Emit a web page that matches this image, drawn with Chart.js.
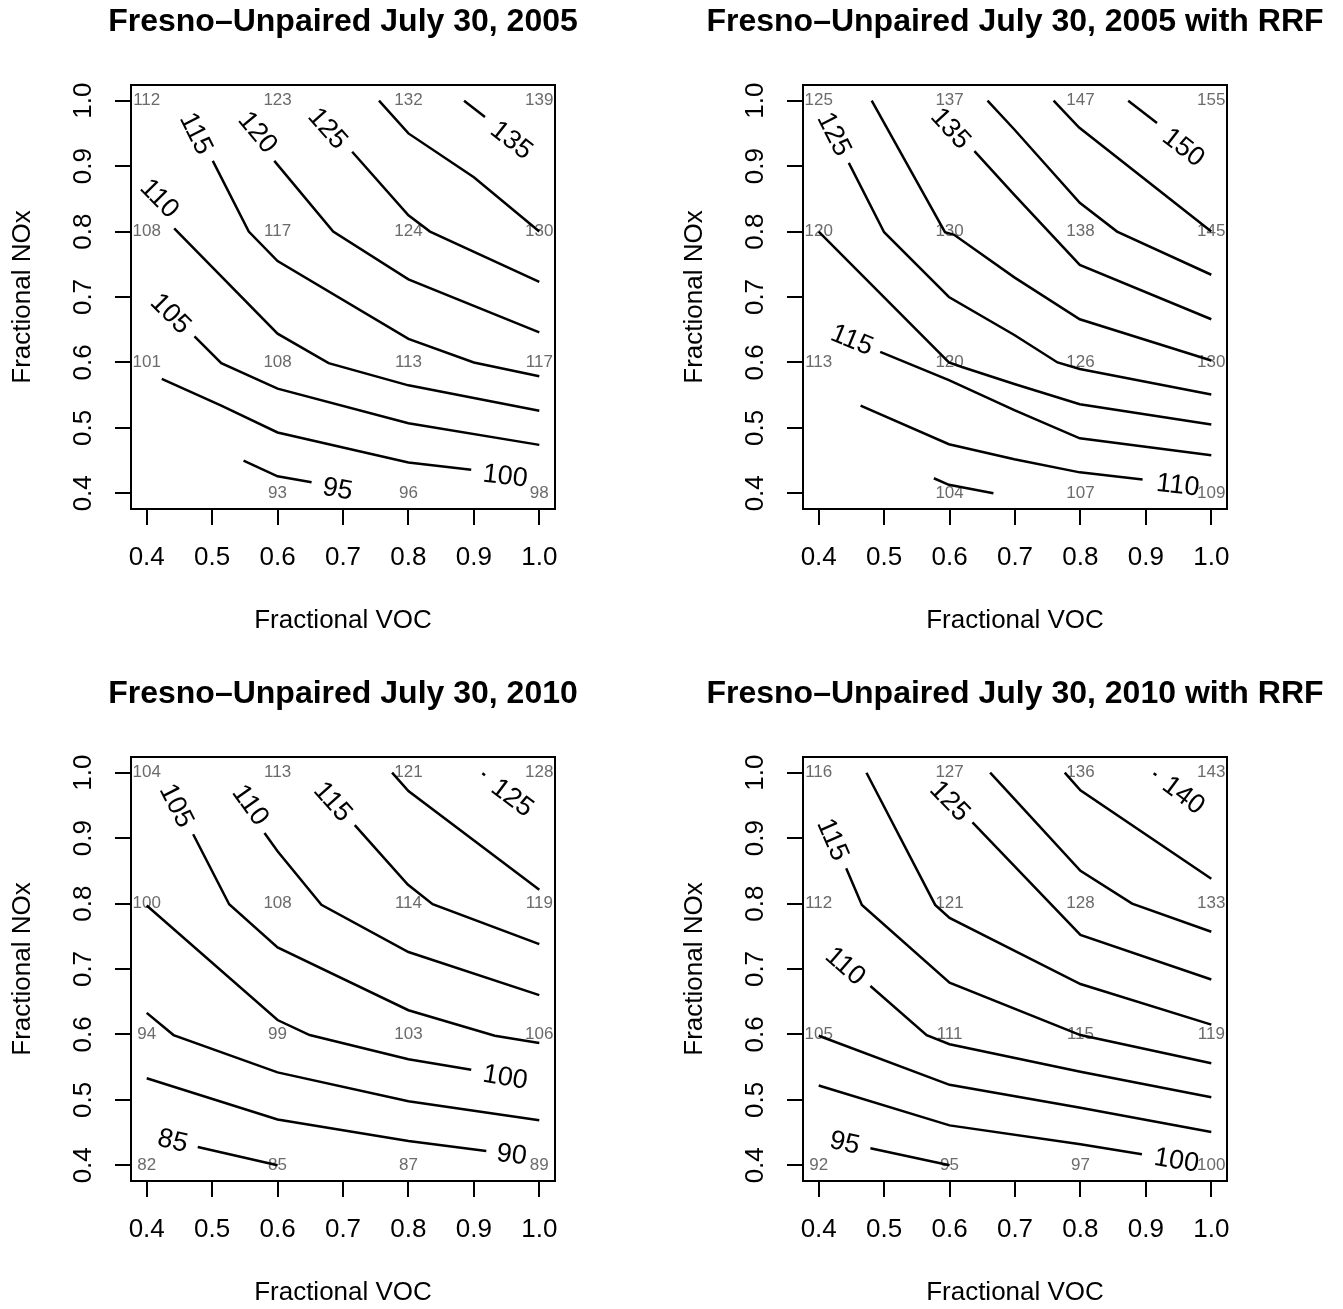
<!DOCTYPE html>
<html>
<head>
<meta charset="utf-8">
<title>Fresno-Unpaired contour plots</title>
<script src="https://cdn.jsdelivr.net/npm/chart.js@4.4.1/dist/chart.umd.min.js"></script>
<style>
  html, body { margin: 0; padding: 0; background: #fff; overflow: hidden; }
  #wrap { position: relative; width: 1343px; height: 1309px; }
  canvas { position: absolute; }
</style>
</head>
<body>
<div id="wrap">
  <canvas id="p1" width="672" height="672" style="left:0;top:0"></canvas>
  <canvas id="p2" width="672" height="672" style="left:672px;top:0"></canvas>
  <canvas id="p3" width="672" height="672" style="left:0;top:672px"></canvas>
  <canvas id="p4" width="672" height="672" style="left:672px;top:672px"></canvas>
</div>
<script>
// grid where the model values were printed
const vocGrid = [0.4, 0.6, 0.8, 1.0];
const noxGrid = [1.0, 0.8, 0.6, 0.4];
const tickValues = [0.4, 0.5, 0.6, 0.7, 0.8, 0.9, 1.0];

const titles = [
  "Fresno\u2013Unpaired July 30, 2005",
  "Fresno\u2013Unpaired July 30, 2005 with RRF",
  "Fresno\u2013Unpaired July 30, 2010",
  "Fresno\u2013Unpaired July 30, 2010 with RRF"
];

// printed grid values, rows = NOx 1.0 .. 0.4, cols = VOC 0.4 .. 1.0
const values2005 = [[112, 123, 132, 139], [108, 117, 124, 130], [101, 108, 113, 117], [null, 93, 96, 98]];
const values2005rrf = [[125, 137, 147, 155], [120, 130, 138, 145], [113, 120, 126, 130], [null, 104, 107, 109]];
const values2010 = [[104, 113, 121, 128], [100, 108, 114, 119], [94, 99, 103, 106], [82, 85, 87, 89]];
const values2010rrf = [[116, 127, 136, 143], [112, 121, 128, 133], [105, 111, 115, 119], [92, 95, 97, 100]];

// contour lines: [VOC, NOx] vertices, label = [VOC, NOx] of the level text
const lines2005 = [
  { level: 135, pts: [[0.885, 1.0], [0.917, 0.975]], label: [0.958, 0.940] },
  { level: 130, pts: [[0.755, 1.0], [0.8, 0.950], [0.9, 0.883], [1.0, 0.8]] },
  { level: 125, pts: [[0.714, 0.922], [0.8, 0.825], [0.833, 0.8], [1.0, 0.723]], label: [0.677, 0.958] },
  { level: 120, pts: [[0.595, 0.908], [0.685, 0.8], [0.8, 0.727], [1.0, 0.646]], label: [0.570, 0.952] },
  { level: 115, pts: [[0.501, 0.908], [0.556, 0.8], [0.6, 0.755], [0.8, 0.636], [0.9, 0.600], [1.0, 0.579]], label: [0.476, 0.950] },
  { level: 110, pts: [[0.442, 0.805], [0.6, 0.644], [0.678, 0.599], [0.8, 0.565], [1.0, 0.526]], label: [0.420, 0.851] },
  { level: 105, pts: [[0.473, 0.640], [0.514, 0.599], [0.6, 0.560], [0.8, 0.507], [1.0, 0.474]], label: [0.437, 0.675] },
  { level: 100, pts: [[0.423, 0.575], [0.514, 0.534], [0.6, 0.493], [0.8, 0.447], [0.896, 0.436]], label: [0.948, 0.427] },
  { level: 95, pts: [[0.548, 0.450], [0.6, 0.426], [0.652, 0.417]], label: [0.692, 0.407] }
];

const lines2005rrf = [
  { level: 150, pts: [[0.873, 1.0], [0.917, 0.966]], label: [0.958, 0.929] },
  { level: 145, pts: [[0.759, 1.0], [0.798, 0.959], [1.0, 0.8]] },
  { level: 140, pts: [[0.658, 1.0], [0.699, 0.956], [0.799, 0.844], [0.856, 0.8], [1.0, 0.734]] },
  { level: 135, pts: [[0.638, 0.923], [0.699, 0.856], [0.799, 0.749], [1.0, 0.666]], label: [0.602, 0.958] },
  { level: 130, pts: [[0.481, 1.0], [0.593, 0.799], [0.607, 0.795], [0.699, 0.730], [0.799, 0.666], [1.0, 0.603]] },
  { level: 125, pts: [[0.446, 0.905], [0.5, 0.799], [0.599, 0.700], [0.699, 0.642], [0.765, 0.600], [0.799, 0.590], [1.0, 0.551]], label: [0.424, 0.949] },
  { level: 120, pts: [[0.4, 0.8], [0.599, 0.600], [0.619, 0.593], [0.699, 0.567], [0.799, 0.536], [1.0, 0.505]] },
  { level: 115, pts: [[0.494, 0.616], [0.599, 0.573], [0.699, 0.527], [0.799, 0.484], [1.0, 0.458]], label: [0.451, 0.635] },
  { level: 110, pts: [[0.464, 0.534], [0.599, 0.475], [0.699, 0.452], [0.799, 0.432], [0.895, 0.421]], label: [0.949, 0.413] },
  { level: 105, pts: [[0.576, 0.423], [0.599, 0.413], [0.667, 0.400]] }
];

const lines2010 = [
  { level: 125, pts: [[0.913, 0.999], [0.917, 0.996]], label: [0.959, 0.962] },
  { level: 120, pts: [[0.775, 1.0], [0.8, 0.972], [1.0, 0.821]] },
  { level: 115, pts: [[0.718, 0.920], [0.799, 0.829], [0.837, 0.799], [1.0, 0.738]], label: [0.685, 0.956] },
  { level: 110, pts: [[0.580, 0.908], [0.6, 0.880], [0.667, 0.798], [0.8, 0.726], [1.0, 0.660]], label: [0.559, 0.951] },
  { level: 105, pts: [[0.471, 0.906], [0.526, 0.799], [0.6, 0.733], [0.8, 0.637], [0.932, 0.598], [1.0, 0.587]], label: [0.446, 0.950] },
  { level: 100, pts: [[0.4, 0.797], [0.6, 0.622], [0.649, 0.599], [0.8, 0.562], [0.896, 0.546]], label: [0.948, 0.535] },
  { level: 95, pts: [[0.4, 0.633], [0.441, 0.599], [0.6, 0.542], [0.8, 0.498], [1.0, 0.469]] },
  { level: 90, pts: [[0.4, 0.533], [0.6, 0.470], [0.8, 0.437], [0.919, 0.422]], label: [0.958, 0.417] },
  { level: 85, pts: [[0.478, 0.428], [0.6, 0.4]], label: [0.440, 0.438] }
];

const lines2010rrf = [
  { level: 140, pts: [[0.912, 0.999], [0.916, 0.996]], label: [0.958, 0.966] },
  { level: 135, pts: [[0.776, 1.0], [0.8, 0.973], [1.0, 0.838]] },
  { level: 130, pts: [[0.662, 1.0], [0.7, 0.959], [0.8, 0.850], [0.879, 0.8], [1.0, 0.757]] },
  { level: 125, pts: [[0.635, 0.924], [0.8, 0.752], [1.0, 0.684]], label: [0.601, 0.957] },
  { level: 120, pts: [[0.473, 1.0], [0.578, 0.798], [0.6, 0.778], [0.8, 0.677], [1.0, 0.615]] },
  { level: 115, pts: [[0.442, 0.854], [0.466, 0.798], [0.6, 0.679], [0.8, 0.599], [1.0, 0.556]], label: [0.422, 0.898] },
  { level: 110, pts: [[0.479, 0.674], [0.565, 0.599], [0.6, 0.585], [0.8, 0.543], [1.0, 0.504]], label: [0.441, 0.705] },
  { level: 105, pts: [[0.4, 0.598], [0.6, 0.523], [0.8, 0.488], [1.0, 0.451]] },
  { level: 100, pts: [[0.4, 0.522], [0.6, 0.461], [0.8, 0.432], [0.894, 0.417]], label: [0.947, 0.408] },
  { level: 95, pts: [[0.479, 0.426], [0.6, 0.4]], label: [0.440, 0.435] }
];

const FONT = '"Liberation Sans", Arial, Helvetica, sans-serif';

// grid numbers, contour level labels, plot box, title and vertical tick labels
function panelPlugin(title, values, lines) {
  return {
    id: "panelText",
    beforeDatasetsDraw(chart) {
      const { ctx, scales: { x, y } } = chart;
      ctx.save();
      ctx.font = "17px " + FONT;
      ctx.fillStyle = "#6b6b6b";
      ctx.textAlign = "center";
      ctx.textBaseline = "middle";
      values.forEach((row, i) => row.forEach((v, j) => {
        if (v === null) return;
        ctx.fillText(String(v), x.getPixelForValue(vocGrid[j]), y.getPixelForValue(noxGrid[i]));
      }));
      ctx.restore();
    },
    afterDatasetsDraw(chart) {
      const { ctx, scales: { x, y } } = chart;
      const pix = p => ({ x: x.getPixelForValue(p[0]), y: y.getPixelForValue(p[1]) });
      ctx.save();
      ctx.font = "27px " + FONT;
      ctx.fillStyle = "#000";
      ctx.textAlign = "center";
      ctx.textBaseline = "middle";
      lines.forEach(c => {
        if (!c.label) return;
        const l = pix(c.label);
        const p = c.pts;
        const a0 = pix(p[0]), aN = pix(p[p.length - 1]);
        const d0 = Math.hypot(a0.x - l.x, a0.y - l.y);
        const dN = Math.hypot(aN.x - l.x, aN.y - l.y);
        const seg = d0 < dN ? [p[0], p[1]] : [p[p.length - 2], p[p.length - 1]];
        const a = pix(seg[0]), b = pix(seg[1]);
        let ang = Math.atan2(b.y - a.y, b.x - a.x);
        if (ang > Math.PI / 2) ang -= Math.PI;
        if (ang < -Math.PI / 2) ang += Math.PI;
        ctx.save();
        ctx.translate(l.x, l.y);
        ctx.rotate(ang);
        ctx.fillText(String(c.level), 0, 1);
        ctx.restore();
      });
      ctx.restore();
    },
    afterDraw(chart) {
      const { ctx, chartArea: area, scales: { y } } = chart;
      ctx.save();
      ctx.strokeStyle = "#000";
      ctx.lineWidth = 2;
      ctx.strokeRect(area.left, area.top, area.right - area.left, area.bottom - area.top);
      // main title, centred on the plot region
      ctx.font = "bold 32px " + FONT;
      ctx.fillStyle = "#000";
      ctx.textAlign = "center";
      ctx.textBaseline = "middle";
      ctx.fillText(title, (area.left + area.right) / 2, 22);
      ctx.font = "26px " + FONT;
      tickValues.forEach(v => {
        ctx.save();
        ctx.translate(area.left - 47, y.getPixelForValue(v));
        ctx.rotate(-Math.PI / 2);
        ctx.fillText(v.toFixed(1), 0, 0);
        ctx.restore();
      });
      ctx.restore();
    }
  };
}

function setTicks(scale) {
  scale.ticks = tickValues.map(v => ({ value: v }));
}

function drawPanel(id, title, values, lines) {
  const datasets = lines.map(c => ({
    label: String(c.level),
    data: c.pts.map(p => ({ x: p[0], y: p[1] })),
    showLine: true,
    borderColor: "#000",
    borderWidth: 2.5,
    pointRadius: 0,
    tension: 0
  }));
  const chart = new Chart(document.getElementById(id), {
    type: "scatter",
    data: { datasets: datasets },
    options: {
      responsive: false,
      animation: false,
      devicePixelRatio: 1,
      layout: { padding: { left: 0, right: 117, top: 85, bottom: 0 } },
      plugins: {
        legend: { display: false },
        tooltip: { enabled: false },
        title: { display: false }
      },
      scales: {
        x: {
          type: "linear",
          min: 0.376,
          max: 1.024,
          afterBuildTicks: setTicks,
          afterFit: s => { s.height = 163; },
          border: { display: false },
          grid: { drawOnChartArea: false, drawTicks: true, tickLength: 16, color: "#000", lineWidth: 2 },
          ticks: {
            color: "#000",
            padding: 17,
            maxRotation: 0,
            font: { family: FONT, size: 26, lineHeight: 1.2 },
            callback: v => Number(v).toFixed(1)
          },
          title: {
            display: true,
            text: "Fractional VOC",
            color: "#000",
            font: { family: FONT, size: 26, lineHeight: 1.2 },
            padding: { top: 0, bottom: 36 }
          }
        },
        y: {
          type: "linear",
          min: 0.376,
          max: 1.024,
          afterBuildTicks: setTicks,
          afterFit: s => { s.width = 131; },
          border: { display: false },
          grid: { drawOnChartArea: false, drawTicks: true, tickLength: 16, color: "#000", lineWidth: 2 },
          ticks: { display: false },
          title: {
            display: true,
            text: "Fractional NOx",
            color: "#000",
            font: { family: FONT, size: 26, lineHeight: 1.2 },
            padding: { top: 7, bottom: 0 }
          }
        }
      }
    },
    plugins: [panelPlugin(title, values, lines)]
  });
  return chart;
}

drawPanel("p1", titles[0], values2005, lines2005);
drawPanel("p2", titles[1], values2005rrf, lines2005rrf);
drawPanel("p3", titles[2], values2010, lines2010);
drawPanel("p4", titles[3], values2010rrf, lines2010rrf);
</script>
</body>
</html>
